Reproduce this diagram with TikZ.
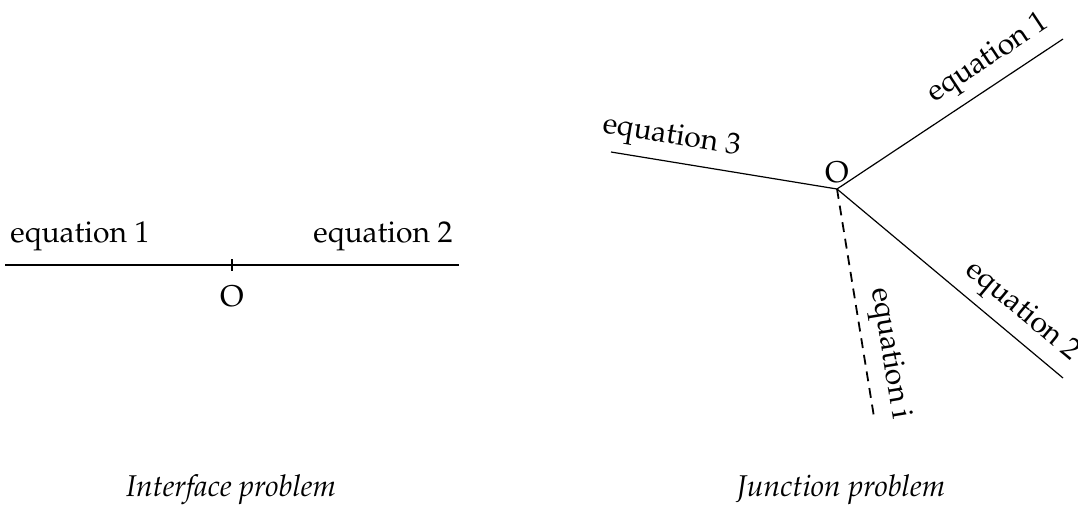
\documentclass[tikz,border=0pt]{standalone}
\usepackage[T1]{fontenc}
\usepackage{mathpazo}
\begin{document}
\begin{tikzpicture}[x=0.3333pt,y=-0.3333pt,
  ln/.style={line width=0.4pt},
  dashedln/.style={line width=0.6pt, dash pattern=on 3.3pt off 2.3pt},
  lbl/.style={font=\normalsize, inner sep=3pt},
  captext/.style={font=\normalsize\itshape}]
\useasboundingbox (0,0) rectangle (1078,506);
% Interface problem
\coordinate (L) at (5,265);
\coordinate (R) at (459,265);
\coordinate (O1) at (232,265);
\coordinate (t1) at (232,259);
\coordinate (t2) at (232,271);
\draw[ln] (L) -- (R);
\draw[ln] (t1) -- (t2);
\node[lbl] (o1lab) at (232,296) {O};
\node[lbl] (eq1l) at (80,236) {equation 1};
\node[lbl] (eq2l) at (383,236) {equation 2};
\node[captext] (capI) at (231,490) {Interface problem};
% Junction problem
\coordinate (O2) at (837,189);
\coordinate (e1) at (1063,39);
\coordinate (e2) at (1063,378);
\coordinate (e3) at (611,152);
\coordinate (ei) at (874,417);
\node[lbl] (o2lab) at (837,172) {O};
\draw[ln] (O2) -- node[lbl, sloped, above, pos=0.73] (n1) {equation 1} (e1);
\draw[ln] (O2) -- node[lbl, sloped, above, pos=0.75] (n2) {equation 2} (e2);
\draw[ln] (e3) -- node[lbl, sloped, above, pos=0.25] (n3) {equation 3} (O2);
\draw[dashedln] (O2) -- node[lbl, sloped, above, pos=0.74] (ni) {equation i} (ei);
\node[captext] (capJ) at (841,490) {Junction problem};
\end{tikzpicture}
\end{document}
